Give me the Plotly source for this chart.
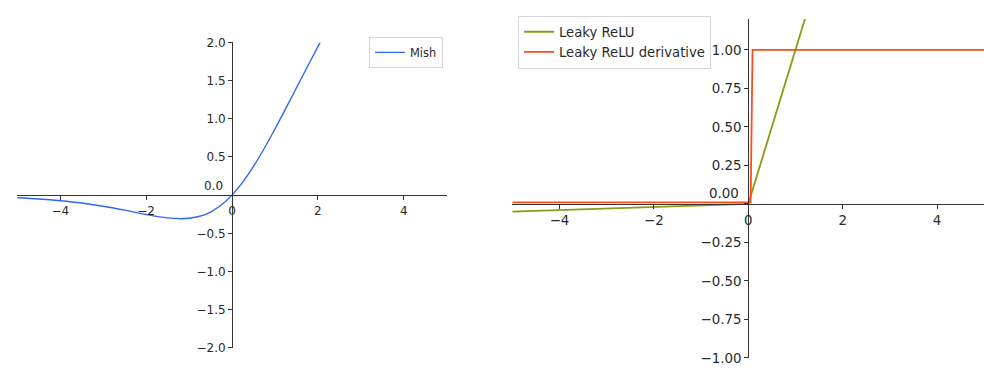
import plotly.graph_objects as go

# --- data -------------------------------------------------------------
mish_x = [-5.0, -4.5, -4.0, -3.5, -3.0, -2.5, -2.0, -1.5, -1.2, -1.0, -0.75,
          -0.5, -0.25, 0.0, 0.25, 0.5, 0.75, 1.0, 1.25, 1.5, 1.75, 2.0, 2.05]
mish_y = [-0.034, -0.050, -0.073, -0.104, -0.146, -0.197, -0.253, -0.298,
          -0.309, -0.303, -0.277, -0.221, -0.130, 0.0, 0.170, 0.375, 0.610,
          0.865, 1.132, 1.403, 1.674, 1.944, 1.997]

leaky_x = [-5.0, 0.0, 5.0]
leaky_y = [-0.05, 0.0, 5.0]

leaky_d_x = [-5.0, 0.05, 0.09, 5.0]
leaky_d_y = [0.01, 0.01, 1.0, 1.0]

left_xticks = [-4, -2, 0, 2, 4]
left_yticks = [-2.0, -1.5, -1.0, -0.5, 0.0, 0.5, 1.0, 1.5, 2.0]
right_xticks = [-4, -2, 0, 2, 4]
right_yticks = [-1.0, -0.75, -0.5, -0.25, 0.0, 0.25, 0.5, 0.75, 1.0]

# --- layout helpers ---------------------------------------------------
W, H = 984, 371


def px_x(p):
    return p / W


def px_y(p):
    return (H - p) / H


FONT = "DejaVu Sans"
AX = "#333333"
TXT = "#2a2a2a"

fig = go.Figure()

fig.add_trace(go.Scatter(x=mish_x, y=mish_y, mode="lines", name="Mish",
                         line=dict(color="#2f66f5", width=1.4, shape="spline"),
                         xaxis="x", yaxis="y", legend="legend"))
fig.add_trace(go.Scatter(x=leaky_x, y=leaky_y, mode="lines", name="Leaky ReLU",
                         line=dict(color="#8c9a17", width=1.8),
                         xaxis="x2", yaxis="y2", legend="legend2"))
fig.add_trace(go.Scatter(x=leaky_d_x, y=leaky_d_y, mode="lines",
                         name="Leaky ReLU derivative",
                         line=dict(color="#ff4a1c", width=1.8),
                         xaxis="x2", yaxis="y2", legend="legend2"))


def axis_common(size):
    return dict(showgrid=False, zeroline=False, showline=True, linecolor=AX,
                linewidth=1, ticks="outside", ticklen=4, tickwidth=1,
                tickcolor=AX, tickfont=dict(family=FONT, size=size, color=TXT),
                mirror=False)


def ylabels(vals, fmt):
    out = []
    for v in vals:
        out.append("" if v == 0 else fmt.format(v).replace("-", "\u2212"))
    return out


def xlabels(vals):
    return [str(v).replace("-", "\u2212") for v in vals]


tick_left, tick_right = 12.0, 13.4
leg_left, leg_right = 11.4, 13.2

fig.update_layout(
    width=W, height=H, margin=dict(l=0, r=0, t=0, b=0),
    paper_bgcolor="white", plot_bgcolor="white",
    xaxis=dict(**axis_common(tick_left), domain=[px_x(17.3), px_x(446.7)],
               range=[-5, 5], anchor="free", position=px_y(195.5),
               tickvals=left_xticks, ticktext=xlabels(left_xticks)),
    yaxis=dict(**axis_common(tick_left), domain=[px_y(354.3), px_y(36.7)],
               range=[-2, 2], anchor="free", position=px_x(232),
               tickvals=left_yticks, ticktext=ylabels(left_yticks, "{:.1f}")),
    xaxis2=dict(**axis_common(tick_right), domain=[px_x(512.3), 1.0],
                range=[-5, 4.994], anchor="free", position=px_y(204.5),
                tickvals=right_xticks, ticktext=xlabels(right_xticks)),
    yaxis2=dict(**axis_common(tick_right), domain=[px_y(364.7), px_y(12.5)],
                range=[-1.0, 1.2], anchor="free", position=px_x(748.3),
                tickvals=right_yticks, ticktext=ylabels(right_yticks, "{:.2f}")),
    legend=dict(x=px_x(369), y=px_y(31), xanchor="left", yanchor="top",
                bgcolor="rgba(255,255,255,0.8)", bordercolor="#d6d6d6",
                borderwidth=1, font=dict(family=FONT, size=leg_left, color=TXT)),
    legend2=dict(x=px_x(518), y=px_y(9), xanchor="left", yanchor="top",
                 bgcolor="rgba(255,255,255,0.8)", bordercolor="#d6d6d6",
                 borderwidth=1, font=dict(family=FONT, size=leg_right, color=TXT)),
    showlegend=True,
)

# zero labels on the y axes sit just above the x axis
fig.add_annotation(x=0, y=0, xref="x", yref="y", text="0.0", showarrow=False,
                   xanchor="right", yanchor="middle", xshift=-7, yshift=9,
                   font=dict(family=FONT, size=tick_left, color=TXT))
fig.add_annotation(x=0, y=0, xref="x2", yref="y2", text="0.00", showarrow=False,
                   xanchor="right", yanchor="middle", xshift=-7, yshift=10,
                   font=dict(family=FONT, size=tick_right, color=TXT))

fig.write_html("out.html")
